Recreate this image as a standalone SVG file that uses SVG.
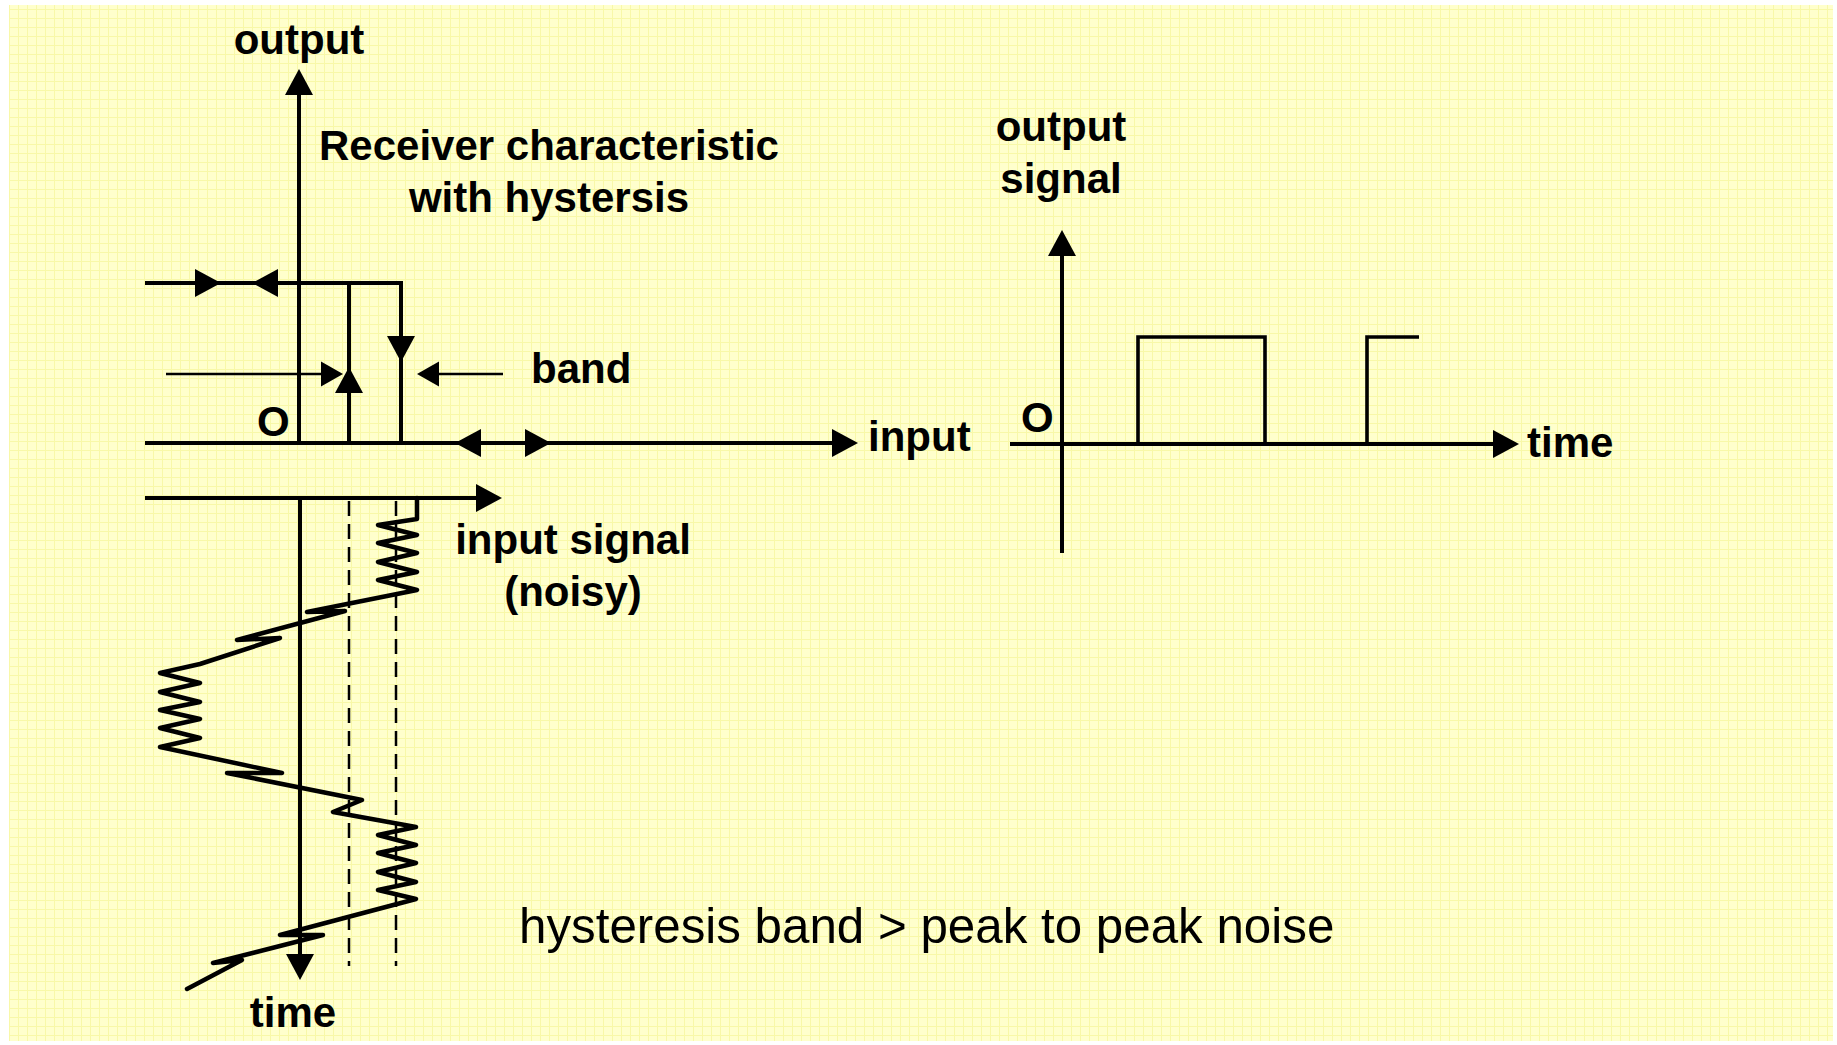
<svg xmlns="http://www.w3.org/2000/svg" xmlns:xlink="http://www.w3.org/1999/xlink" width="1837" height="1045" viewBox="0 0 1837 1045">
<style>
.thick{fill:none;stroke:#000;stroke-width:4;stroke-linejoin:miter}
.thin{fill:none;stroke:#000;stroke-width:2.3}
.dash{fill:none;stroke:#000;stroke-width:2.5;stroke-dasharray:15 8}
.sig{fill:none;stroke:#000;stroke-width:4.5;stroke-linejoin:round;stroke-linecap:round}
.pulse{fill:none;stroke:#000;stroke-width:3.6}
.lbl{font-family:"Liberation Sans",Arial,sans-serif;font-weight:bold;font-size:42px;fill:#000}
.note{font-family:"Liberation Sans",Arial,sans-serif;font-size:49.3px;fill:#000}
.ah{fill:#000}
</style>
<defs>
<pattern id="grid" width="9" height="9" patternUnits="userSpaceOnUse">
<rect width="9" height="9" fill="#FFFFCC"/>
<path d="M0,0.5 H9 M0.5,0 V9" stroke="#F8F8A8" stroke-width="1" fill="none"/>
</pattern>
<path id="ah" d="M0,0 L-26,-14 L-26,14 Z"/>
<path id="ahs" d="M0,0 L-22,-12.5 L-22,12.5 Z"/>
</defs>
<rect x="0" y="0" width="1837" height="1045" fill="#FFFFFF"/>
<rect x="9" y="5" width="1824" height="1036" fill="url(#grid)"/>

<g id="left-axes">
<line class="thick" x1="299" y1="90" x2="299" y2="443"/>
<line class="thick" x1="145" y1="443" x2="840" y2="443"/>
<line class="thick" x1="145" y1="498" x2="485" y2="498"/>
<line class="thick" x1="300" y1="498" x2="300" y2="962"/>
</g>

<g id="hysteresis-loop">
<polyline class="thick" points="145,283 401,283 401,443"/>
<line class="thick" x1="349" y1="283" x2="349" y2="443"/>
</g>

<g id="band-lines">
<line class="dash" x1="349" y1="501" x2="349" y2="966"/>
<line class="dash" x1="396" y1="501" x2="396" y2="966"/>
</g>

<g id="connectors">
<line class="thin" x1="166" y1="374" x2="330" y2="374"/>
<line class="thin" x1="430" y1="374" x2="503" y2="374"/>
<g class="ah">
<use href="#ah" transform="translate(299,69) rotate(-90)"/>
<use href="#ah" transform="translate(221,283)"/>
<use href="#ah" transform="translate(252,283) rotate(180)"/>
<use href="#ah" transform="translate(349,367) rotate(-90)"/>
<use href="#ah" transform="translate(401,362) rotate(90)"/>
<use href="#ahs" transform="translate(343,374)"/>
<use href="#ahs" transform="translate(417,374) rotate(180)"/>
<use href="#ah" transform="translate(455,443) rotate(180)"/>
<use href="#ah" transform="translate(551,443)"/>
<use href="#ah" transform="translate(858,443)"/>
<use href="#ah" transform="translate(502,498)"/>
<use href="#ah" transform="translate(300,980) rotate(90)"/>
<use href="#ah" transform="translate(1062,230) rotate(-90)"/>
<use href="#ah" transform="translate(1519,444)"/>
</g>
</g>

<g id="input-signal">
<polyline class="sig" points="417,498 417,519 378,525 417,535 378,543 417,553 378,562 417,572 378,580 417,590 307,612 345,611 237,640 280,638 200,664 160,673 200,683 160,692 200,702 160,710 200,719 160,728 200,738 160,747 282,773 227,773 362,800 333,812 416,827 378,835 416,845 378,853 416,863 378,872 416,882 378,890 416,899 280,935 323,935 213,963 242,960 187,989"/>
</g>

<g id="right-axes">
<line class="thick" x1="1062" y1="252" x2="1062" y2="553"/>
<line class="thick" x1="1010" y1="444" x2="1498" y2="444"/>
</g>

<g id="output-signal">
<polyline class="pulse" points="1138,444 1138,337 1265,337 1265,444"/>
<polyline class="pulse" points="1367,444 1367,337 1419,337"/>
</g>

<g id="labels">
<text class="lbl" x="299" y="54" text-anchor="middle">output</text>
<text class="lbl" x="549" y="160" text-anchor="middle">Receiver characteristic</text>
<text class="lbl" x="549" y="212" text-anchor="middle">with hystersis</text>
<text class="lbl" x="531" y="383">band</text>
<text class="lbl" x="257" y="436">O</text>
<text class="lbl" x="868" y="451">input</text>
<text class="lbl" x="573" y="554" text-anchor="middle">input signal</text>
<text class="lbl" x="573" y="606" text-anchor="middle">(noisy)</text>
<text class="lbl" x="293" y="1027" text-anchor="middle">time</text>
<text class="lbl" x="1061" y="141" text-anchor="middle">output</text>
<text class="lbl" x="1061" y="193" text-anchor="middle">signal</text>
<text class="lbl" x="1021" y="432">O</text>
<text class="lbl" x="1527" y="457">time</text>
<text class="note" x="519" y="943">hysteresis band &gt; peak to peak noise</text>
</g>
</svg>
